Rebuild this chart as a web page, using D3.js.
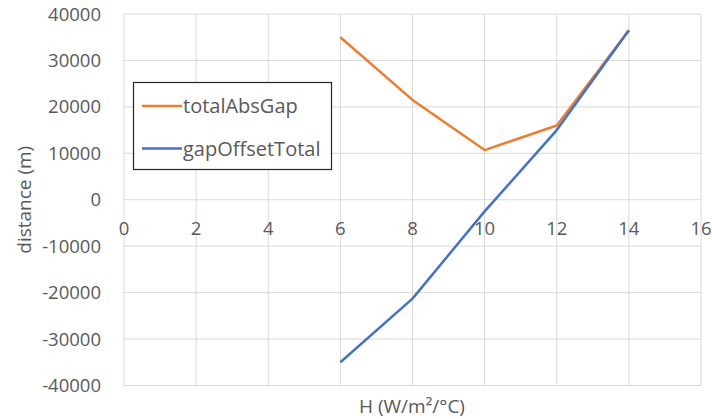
<!DOCTYPE html>
<meta charset="utf-8">
<style>
  body { margin: 0; background: #fff; }
  text { font-family: "Open Sans", "Noto Sans", sans-serif; fill: #595959; }
</style>
<svg width="712" height="419"></svg>
<script src="https://d3js.org/d3.v7.min.js"></script>
<script>
// values
var hValues = [6, 8, 10, 12, 14]
var totalAbsGap = [35000, 21500, 10700, 16000, 36500]
var gapOffsetTotal = [-35000, -21300, -2500, 15000, 36500]
var xTicks = [0, 2, 4, 6, 8, 10, 12, 14, 16]
var yTicks = [-40000, -30000, -20000, -10000, 0, 10000, 20000, 30000, 40000]

var series = [
  { name: 'totalAbsGap', values: totalAbsGap, color: '#ED7D31' },
  { name: 'gapOffsetTotal', values: gapOffsetTotal, color: '#4472C4' }
]

var svg = d3.select('svg')

var x = d3.scaleLinear().domain([0, 16]).range([124, 701])
var y = d3.scaleLinear().domain([-40000, 40000]).range([385.5, 14])

// gridlines
var grid = svg.append('g').attr('class', 'grid')
grid.selectAll('line.v').data(xTicks).enter().append('line')
  .attr('x1', function (d) { return x(d) }).attr('x2', function (d) { return x(d) })
  .attr('y1', y(40000)).attr('y2', y(-40000))
  .attr('stroke', '#d9d9d9').attr('stroke-width', 1)
grid.selectAll('line.h').data(yTicks).enter().append('line')
  .attr('x1', x(0)).attr('x2', x(16))
  .attr('y1', function (d) { return y(d) }).attr('y2', function (d) { return y(d) })
  .attr('stroke', '#d9d9d9').attr('stroke-width', 1)

// y tick labels
svg.append('g').selectAll('text').data(yTicks).enter().append('text')
  .attr('x', 101)
  .attr('y', function (d) { return y(d) + 6.5 })
  .attr('text-anchor', 'end')
  .attr('font-size', 18.5)
  .text(function (d) { return d })

// x tick labels sit under the zero line
svg.append('g').selectAll('text').data(xTicks).enter().append('text')
  .attr('x', function (d) { return x(d) })
  .attr('y', y(0) + 35)
  .attr('text-anchor', 'middle')
  .attr('font-size', 18.5)
  .text(function (d) { return d })

// lines
var line = d3.line()
  .x(function (d, i) { return x(hValues[i]) })
  .y(function (d) { return y(d) })

svg.append('g').selectAll('path').data(series).enter().append('path')
  .attr('d', function (s) { return line(s.values) })
  .attr('fill', 'none')
  .attr('stroke', function (s) { return s.color })
  .attr('stroke-width', 2.5)
  .attr('stroke-linejoin', 'round')

// axis titles
svg.append('text')
  .attr('transform', 'translate(31,' + y(0) + ') rotate(-90)')
  .attr('text-anchor', 'middle')
  .attr('font-size', 19)
  .text('distance (m)')

svg.append('text')
  .attr('x', 412).attr('y', 413)
  .attr('text-anchor', 'middle')
  .attr('font-size', 19)
  .text('H (W/m²/°C)')

// legend
var legend = svg.append('g')
legend.append('rect')
  .attr('x', 133.5).attr('y', 82.5).attr('width', 198).attr('height', 87)
  .attr('fill', '#fff').attr('stroke', '#262626').attr('stroke-width', 1.2)
var items = legend.selectAll('g').data(series).enter().append('g')
  .attr('transform', function (s, i) { return 'translate(0,' + (106 + i * 42.5) + ')' })
items.append('line')
  .attr('x1', 142).attr('x2', 182)
  .attr('stroke', function (s) { return s.color })
  .attr('stroke-width', 2.5)
items.append('text')
  .attr('x', 183).attr('y', 7)
  .attr('font-size', 20)
  .text(function (s) { return s.name })
</script>
